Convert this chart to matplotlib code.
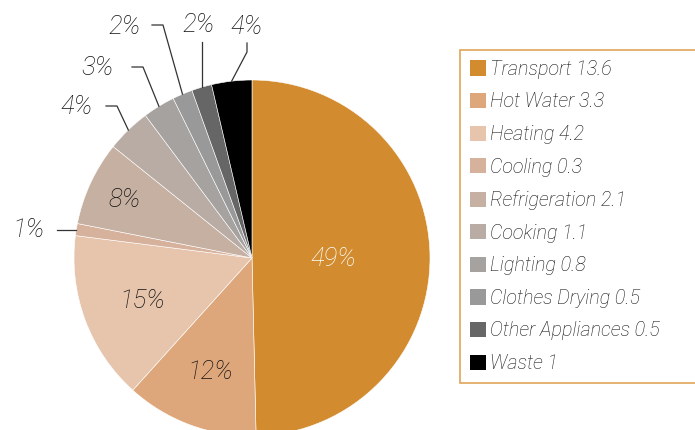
import numpy as np
import matplotlib
matplotlib.use('Agg')
import matplotlib.pyplot as plt

# Data
categories = ['Transport', 'Hot Water', 'Heating', 'Cooling', 'Refrigeration',
              'Cooking', 'Lighting', 'Clothes Drying', 'Other Appliances', 'Waste']
values = [13.6, 3.3, 4.2, 0.3, 2.1, 1.1, 0.8, 0.5, 0.5, 1]
pct_labels = ['49%', '12%', '15%', '1%', '8%', '4%', '3%', '2%', '2%', '4%']
colors = ['#D28B2E', '#DEA77B', '#E7C4AC', '#D6B29D', '#C6B0A2',
          '#B8ACA5', '#A6A29F', '#999999', '#666666', '#000000']

plt.rcParams['font.family'] = ['Roboto', 'DejaVu Sans']

W, H = 695, 430
fig = plt.figure(figsize=(W / 100, H / 100), dpi=100)
ax = fig.add_axes([0, 0, 1, 1])

# pie centre at pixel (252, 258), radius 178 px
R = 178.0
cx, cy = 252.0, 258.0
wedges, _ = ax.pie(values, colors=colors, startangle=90, counterclock=False,
                   wedgeprops=dict(edgecolor='white', linewidth=0.4))
ax.set_aspect('auto')
ax.set_xlim(-cx / R, (W - cx) / R)
ax.set_ylim(-(H - cy) / R, cy / R)
ax.axis('off')

txt = dict(fontsize=18.5, style='italic', fontweight='light', color='#111111',
           ha='center', va='center')

# inside labels: index -> distance from centre
inside = {0: 0.46, 1: 0.67, 2: 0.66, 4: 0.79}
for i, d in inside.items():
    w = wedges[i]
    a = np.deg2rad((w.theta1 + w.theta2) / 2)
    col = 'white' if i == 0 else '#111111'
    ax.text(d * np.cos(a), d * np.sin(a) - 0.01, pct_labels[i], **{**txt, 'color': col})


def px(x, y):
    return (x - cx) / R, (cy - y) / R


def edge(i):
    w = wedges[i]
    a = np.deg2rad((w.theta1 + w.theta2) / 2)
    return np.cos(a), np.sin(a)


lc = dict(color='#333333', linewidth=0.9)

# outside labels with leader lines (layout in pixel coords)
# Cooling 1%
ex, ey = edge(3)
ax.plot([ex, px(57, 0)[0]], [ey, ey], **lc)
ax.text(*px(28, 230), pct_labels[3], **txt)

# elbow labels: index -> (elbow point, horizontal start, label centre)
elbows = {5: ((117, 106), 106, (77, 107)),
          6: ((143, 67), 132, (98, 68)),
          7: ((163, 25), 152, (124, 27))}
for i, (eb, hx, lab) in elbows.items():
    ex, ey = edge(i)
    bx, by = px(*eb)
    ax.plot([ex, bx, px(hx, 0)[0]], [ey, by, by], **lc)
    ax.text(*px(*lab), pct_labels[i], **txt)

# Other Appliances: vertical line
ex, ey = edge(8)
ax.plot([ex, ex], [ey, px(0, 42)[1]], **lc)
ax.text(*px(198, 25), pct_labels[8], **txt)

# Waste: diagonal then vertical
ex, ey = edge(9)
bx, by = px(247, 52)
ax.plot([ex, bx, bx], [ey, by, px(0, 43)[1]], **lc)
ax.text(*px(247, 27), pct_labels[9], **txt)

# Legend
leg_labels = ['%s %g' % (c, v) for c, v in zip(categories, values)]
leg = ax.legend(wedges, leg_labels, loc='upper left',
                bbox_to_anchor=(460 / W, 1 - 50 / H, 270 / W, 0),
                bbox_transform=fig.transFigure, mode='expand', borderaxespad=0,
                frameon=True, fancybox=False, handlelength=0.8, handleheight=0.8,
                handletextpad=0.22, labelspacing=0.69, borderpad=0.5,
                prop=dict(family=['Roboto', 'DejaVu Sans'], size=14.2,
                          style='italic', weight='light'))
frame = leg.get_frame()
frame.set_edgecolor('#D88F30')
frame.set_linewidth(1.2)
for t in leg.get_texts():
    t.set_color('#111111')
for h in leg.legend_handles:
    h.set_edgecolor('none')

fig.savefig('out.png', dpi=100)
